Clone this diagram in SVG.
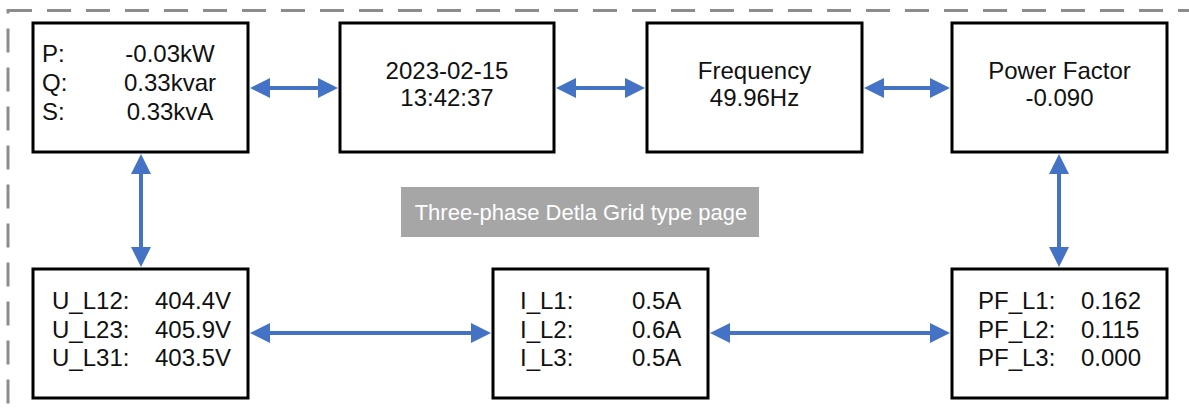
<svg xmlns="http://www.w3.org/2000/svg" width="1189" height="412" viewBox="0 0 1189 412">
<style>
.box{fill:#fff;stroke:#000;stroke-width:3}
.t{font-family:"Liberation Sans",Arial,sans-serif;font-size:24px;fill:#111}
.c{text-anchor:middle}
.lbl{font-family:"Liberation Sans",Arial,sans-serif;font-size:22px;fill:#fff;text-anchor:middle}
.conn{stroke:#4472C4;stroke-width:4;fill:none;marker-start:url(#ah);marker-end:url(#ah)}
</style>
<defs>
<marker id="ah" markerUnits="userSpaceOnUse" markerWidth="22" markerHeight="22" refX="2" refY="10" orient="auto-start-reverse" viewBox="0 0 22 20">
<path d="M0,0 L20,10 L0,20 Z" fill="#4472C4"/>
</marker>
</defs>
<rect x="8" y="10.5" width="1200" height="420" fill="none" stroke="#8c8c8c" stroke-width="3" stroke-dasharray="24 15"/>
<g id="connectors">
<line class="conn" x1="268" y1="88" x2="320" y2="88"/>
<line class="conn" x1="574" y1="88" x2="627" y2="88"/>
<line class="conn" x1="882" y1="88" x2="932" y2="88"/>
<line class="conn" x1="141" y1="172" x2="141" y2="249"/>
<line class="conn" x1="1059" y1="172" x2="1059" y2="249"/>
<line class="conn" x1="268" y1="333" x2="473" y2="333"/>
<line class="conn" x1="728" y1="333" x2="932" y2="333"/>
</g>
<g id="label">
<rect x="401" y="187" width="358" height="50" fill="#a6a6a6"/>
<text class="lbl" x="581" y="220">Three-phase Detla Grid type page</text>
</g>
<g id="n-power">
<rect class="box" x="33" y="23" width="215" height="129"/>
<text class="t" x="42" y="62">P:</text>
<text class="t" x="42" y="91">Q:</text>
<text class="t" x="42" y="120">S:</text>
<text class="t c" x="170" y="62">-0.03kW</text>
<text class="t c" x="170" y="91">0.33kvar</text>
<text class="t c" x="170" y="120">0.33kvA</text>
</g>
<g id="n-datetime">
<rect class="box" x="340" y="23" width="214" height="129"/>
<text class="t c" x="447" y="79">2023-02-15</text>
<text class="t c" x="447" y="106">13:42:37</text>
</g>
<g id="n-frequency">
<rect class="box" x="647" y="23" width="215" height="129"/>
<text class="t c" x="754.5" y="79">Frequency</text>
<text class="t c" x="754.5" y="106">49.96Hz</text>
</g>
<g id="n-pf">
<rect class="box" x="952" y="23" width="215" height="129"/>
<text class="t c" x="1059.5" y="79">Power Factor</text>
<text class="t c" x="1059.5" y="106">-0.090</text>
</g>
<g id="n-voltage">
<rect class="box" x="33" y="269" width="215" height="129"/>
<text class="t" x="52" y="309">U_L12:</text>
<text class="t" x="52" y="337.5">U_L23:</text>
<text class="t" x="52" y="366">U_L31:</text>
<text class="t" x="155" y="309">404.4V</text>
<text class="t" x="155" y="337.5">405.9V</text>
<text class="t" x="155" y="366">403.5V</text>
</g>
<g id="n-current">
<rect class="box" x="493" y="269" width="215" height="129"/>
<text class="t" x="520" y="309">I_L1:</text>
<text class="t" x="520" y="337.5">I_L2:</text>
<text class="t" x="520" y="366">I_L3:</text>
<text class="t" x="632" y="309">0.5A</text>
<text class="t" x="632" y="337.5">0.6A</text>
<text class="t" x="632" y="366">0.5A</text>
</g>
<g id="n-pfphase">
<rect class="box" x="952" y="269" width="215" height="129"/>
<text class="t" x="978" y="309">PF_L1:</text>
<text class="t" x="978" y="337.5">PF_L2:</text>
<text class="t" x="978" y="366">PF_L3:</text>
<text class="t" x="1081" y="309">0.162</text>
<text class="t" x="1081" y="337.5">0.115</text>
<text class="t" x="1081" y="366">0.000</text>
</g>
</svg>
